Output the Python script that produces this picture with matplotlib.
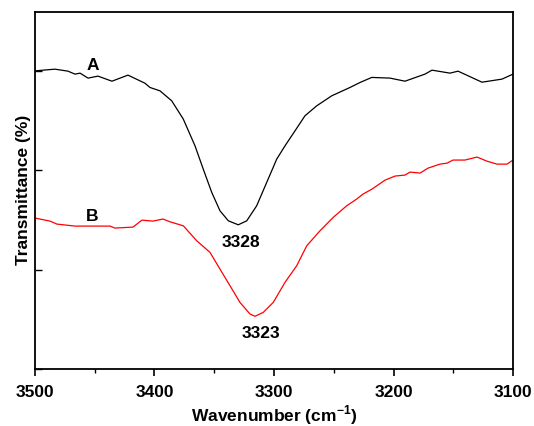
import matplotlib
matplotlib.use("Agg")
import matplotlib.pyplot as plt
from matplotlib.ticker import MultipleLocator

# Curve A (black), wavenumber in cm-1 and transmittance in arbitrary units
wave_a = [3500, 3483.3, 3472.4, 3466.5, 3462.3, 3455.6, 3447.3, 3435.6, 3422.2, 3408.0,
          3403.8, 3395.4, 3385.6, 3375.9, 3366.1, 3359.2, 3352.1, 3345.2, 3338.2, 3329.9,
          3322.8, 3314.5, 3306.1, 3297.7, 3290.8, 3282.4, 3274.1, 3264.3, 3251.7, 3236.4,
          3228.0, 3218.2, 3202.9, 3190.4, 3173.7, 3167.8, 3152.7, 3146.0, 3126.0, 3109.2,
          3100]
trans_a = [2.998, 3.015, 2.995, 2.965, 2.975, 2.925, 2.945, 2.894, 2.955, 2.874,
           2.831, 2.797, 2.697, 2.513, 2.244, 2.010, 1.776, 1.591, 1.490, 1.450,
           1.490, 1.641, 1.876, 2.111, 2.244, 2.395, 2.546, 2.646, 2.747, 2.831,
           2.881, 2.932, 2.925, 2.894, 2.965, 3.005, 2.975, 2.995, 2.884, 2.915,
           2.965]

# Curve B (red)
wave_b = [3500, 3487.4, 3481.6, 3466.5, 3437.2, 3433.1, 3418.0, 3410.5, 3401.3, 3392.9,
          3387.0, 3375.9, 3364.7, 3353.6, 3345.2, 3336.8, 3328.5, 3320.1, 3315.9, 3308.9,
          3300.6, 3290.8, 3281.0, 3272.6, 3261.5, 3250.4, 3239.2, 3230.8, 3225.5, 3218.0,
          3207.1, 3198.7, 3190.4, 3186.2, 3177.8, 3171.1, 3161.1, 3155.2, 3150.2, 3140.2,
          3130.1, 3121.8, 3113.4, 3105.0, 3100]
trans_b = [1.518, 1.487, 1.457, 1.437, 1.437, 1.417, 1.427, 1.497, 1.487, 1.508,
           1.480, 1.440, 1.290, 1.173, 1.005, 0.837, 0.670, 0.553, 0.530, 0.570,
           0.670, 0.871, 1.038, 1.239, 1.390, 1.525, 1.641, 1.709, 1.759, 1.809,
           1.899, 1.940, 1.950, 1.980, 1.970, 2.020, 2.060, 2.070, 2.101, 2.101,
           2.131, 2.090, 2.060, 2.060, 2.101]

x_ticks = [3500, 3400, 3300, 3200, 3100]

plt.rcParams['font.family'] = ['Liberation Sans', 'DejaVu Sans']
plt.rcParams['font.weight'] = 'bold'
plt.rcParams['mathtext.fontset'] = 'custom'
plt.rcParams['mathtext.bf'] = 'Liberation Sans:bold'
plt.rcParams['mathtext.rm'] = 'Liberation Sans:bold'

fig = plt.figure(figsize=(5.34, 4.27), dpi=100)
ax = fig.add_axes([0.0655, 0.1335, 0.8952, 0.8361])

ax.plot(wave_a, trans_a, color='black', lw=0.9)
ax.plot(wave_b, trans_b, color='red', lw=0.9)

# Curve labels and peak positions
ax.text(3452, 3.06, 'A', fontsize=12.5, fontweight='bold', ha='center', va='center')
ax.text(3452, 1.54, 'B', fontsize=12.5, fontweight='bold', ha='center', va='center')
ax.text(3328, 1.28, '3328', fontsize=12.5, fontweight='bold', ha='center', va='center')
ax.text(3311, 0.37, '3323', fontsize=12.5, fontweight='bold', ha='center', va='center')

ax.set_xlim(3500, 3100)
ax.set_ylim(0, 3.59)
ax.set_xticks(x_ticks)
ax.xaxis.set_minor_locator(MultipleLocator(50))
ax.yaxis.set_major_locator(MultipleLocator(1))
ax.set_yticklabels([])

ax.tick_params(axis='x', which='major', direction='out', length=5, width=1.2,
               labelsize=12.5, pad=6)
ax.tick_params(axis='x', which='minor', direction='out', length=3, width=1.0)
ax.tick_params(axis='y', which='major', direction='in', length=5, width=1.0)
for lab in ax.get_xticklabels():
    lab.set_fontweight('bold')

for spine in ax.spines.values():
    spine.set_linewidth(1.3)

ax.set_xlabel('Wavenumber (cm$^{\\mathrm{-1}}$)', fontsize=12.5, fontweight='bold', labelpad=2)
ax.set_ylabel('Transmittance (%)', fontsize=12.5, fontweight='bold')
ax.yaxis.set_label_coords(-0.008, 0.504)

fig.savefig('out.png', dpi=100)
